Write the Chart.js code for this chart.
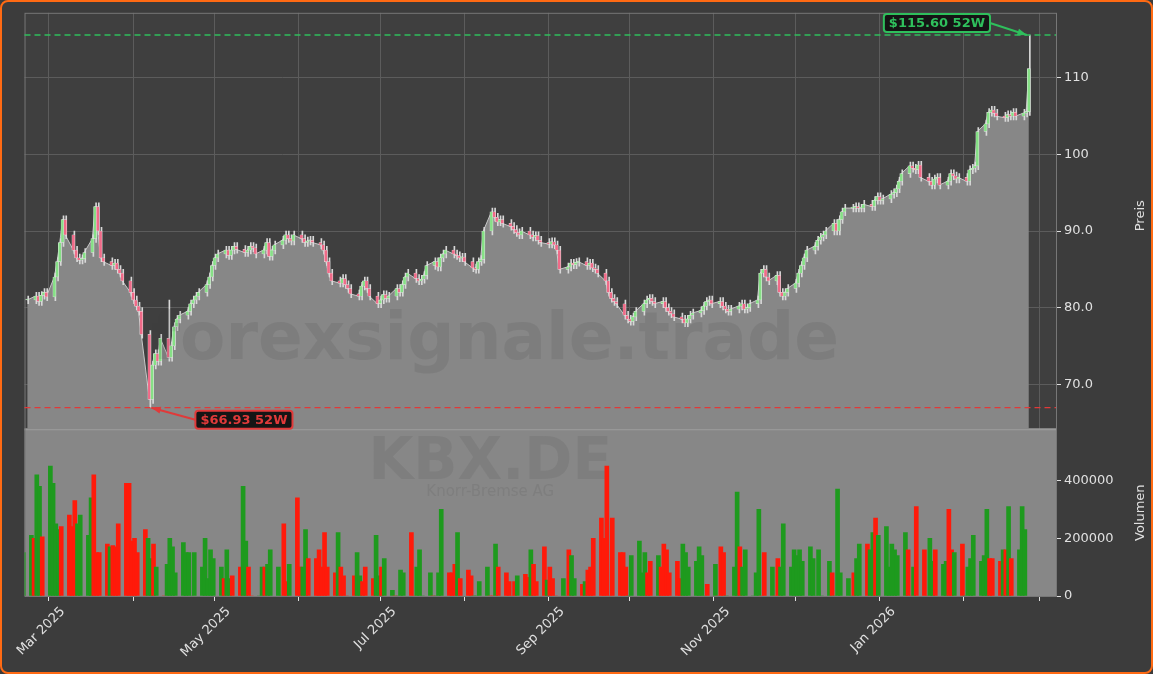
<!DOCTYPE html>
<html>
<head>
<meta charset="utf-8">
<script src="https://cdn.jsdelivr.net/npm/chart.js@4.4.1/dist/chart.umd.min.js"></script>
<style>
  html, body { margin: 0; padding: 0; background: #3c3c3c; }
  #wrap { position: relative; width: 1153px; height: 674px; box-sizing: border-box;
          border: 2px solid #ff6a13; border-radius: 8px; overflow: hidden; background: #3c3c3c; }
  canvas { display: block; }
</style>
</head>
<body>
<div id="wrap"><canvas id="chart" width="1149" height="670"></canvas></div>
<script>
// Daily closes (trading days from 21 Feb 2025)
const closes = [
  81, 81.5, 80.8, 81.6, 82, 81.4, 84, 86, 88.5, 91.5,
  89.5, 87.5, 86.5, 86.2, 86.4, 87.2, 89, 93.2, 90, 86.5,
  86, 85.5, 85.8, 85, 84.5, 83.5, 82, 81, 80.2, 79.5,
  76.5, 68, 72.5, 74, 73, 76, 73.5, 75, 77.5, 78.5,
  79, 79.5, 80.5, 81, 81.5, 82, 83, 84, 85.5, 86.5,
  87, 87.5, 86.8, 87.5, 88, 87.6, 87.2, 87.5, 88, 87.8,
  87, 87.5, 88.5, 86.7, 87.5, 88.2, 88.8, 89.5, 89, 88.7,
  89.5, 89, 88.5, 88.7, 88.8, 88.5, 88.2, 87.5, 86, 84.5,
  83.5, 83.2, 83.8, 83, 82.5, 81.8, 81.5, 82.8, 83.5, 82.5,
  81.5, 80.5, 81, 81.7, 81.2, 81.5, 82.5, 82, 83, 84,
  84.5, 83.8, 83.5, 83.7, 84.2, 85.5, 86, 85.3, 86.5, 87,
  87.5, 87, 86.8, 86.5, 86.6, 86, 85.2, 85, 86, 86.3,
  90, 92.5, 91.8, 91.2, 91.5, 91, 90.6, 90.2, 89.8, 89.5,
  90, 89.5, 89.2, 89.4, 88.8, 88.5, 88.3, 88.6, 88.2, 87.5,
  85, 85.3, 85.8, 85.6, 85.9, 86, 85.5, 85.8, 85.2, 85,
  84.5, 83.5, 82, 81.2, 80.8, 80.5, 79, 78.5, 78.2, 78.8,
  79.5, 80.5, 81, 81.2, 80.8, 80.5, 80.8, 80, 79.5, 79.2,
  78.8, 78.5, 78, 78.5, 79, 79.3, 79.6, 80.2, 80.8, 81,
  80.5, 80.8, 80.2, 79.8, 79.5, 79.8, 80.2, 80.5, 79.8, 80,
  80.5, 81, 84.5, 85, 84, 83.5, 84.2, 82, 81.5, 82,
  82.5, 83.2, 84.5, 85.5, 86.5, 87.5, 88, 88.8, 89.2, 89.5,
  90, 91, 90, 91.5, 92.5, 93, 93, 93.2, 93, 93,
  93.5, 93.2, 94, 94.5, 94, 94.2, 94.8, 95, 95.5, 96.5,
  97.5, 98.5, 98.2, 98, 98.6, 97, 96.5, 96, 96.8, 97,
  96, 96.5, 97.5, 97.2, 96.8, 97, 96.5, 98, 98.2, 98.5,
  103, 104, 105.5, 105.8, 105.4, 105, 104.8, 105.2, 105, 105.5,
  105, 105.4, 105.6, 111.2
];
// Daily volume in thousands
const volumesK = [
  150, 210, 200, 420, 380, 205, 450, 390, 250, 230,
  240, 280, 240, 330, 250, 280, 210, 340, 420, 150,
  150, 180, 170, 175, 170, 250, 390, 390, 190, 200,
  150, 230, 200, 130, 180, 100, 0, 110, 200, 170,
  80, 185, 150, 150, 0, 150, 100, 200, 60, 160,
  130, 100, 60, 160, 60, 70, 100, 380, 190, 100,
  0, 0, 100, 100, 110, 160, 100, 0, 250, 50,
  110, 340, 100, 100, 230, 130, 130, 160, 100, 220,
  100, 80, 220, 100, 70, 0, 70, 150, 70, 50,
  100, 60, 210, 70, 100, 130, 20, 0, 0, 90,
  80, 220, 0, 100, 160, 0, 80, 0, 0, 80,
  300, 80, 80, 110, 220, 60, 90, 70, 0, 0,
  50, 100, 0, 0, 180, 100, 80, 50, 0, 50,
  70, 75, 65, 160, 110, 50, 170, 55, 100, 60,
  0, 60, 0, 160, 140, 60, 40, 50, 90, 100,
  200, 270, 200, 450, 0, 270, 150, 150, 100, 0,
  140, 190, 80, 150, 80, 120, 140, 100, 180, 160,
  80, 120, 60, 180, 150, 100, 120, 170, 140, 0,
  40, 110, 0, 170, 150, 0, 100, 360, 170, 100,
  160, 0, 80, 300, 0, 150, 100, 0, 130, 100,
  250, 100, 160, 140, 160, 120, 170, 130, 0, 160,
  0, 120, 80, 0, 370, 80, 60, 0, 80, 130,
  180, 180, 160, 220, 270, 210, 240, 100, 180, 160,
  140, 220, 160, 0, 100, 310, 160, 0, 200, 120,
  160, 110, 120, 300, 160, 150, 180, 0, 100, 130,
  210, 120, 140, 300, 130, 130, 120, 160, 160, 310,
  130, 160, 310, 230
];
const low52 = 66.93, low52Index = 31;
const high52 = 115.6, high52Index = 263;
const priceTicks = [70, 80, 90, 100, 110];
const volumeTicks = [0, 200000, 400000];

const DAY = 86400000;
// trading days (weekdays) starting 21 Feb 2025
const days = [];
let d = Date.UTC(2025, 1, 21);
while (days.length < closes.length) {
  const wd = new Date(d).getUTCDay();
  if (wd !== 0 && wd !== 6) days.push(d / DAY);
  d += DAY;
}
const opens = closes.map((c, i) => i === 0 ? c : closes[i - 1]);
const highs = closes.map((c, i) => Math.max(c, opens[i]) + 0.5);
const lows = closes.map((c, i) => Math.min(c, opens[i]) - 0.5);
highs[high52Index] = high52; lows[low52Index] = low52; highs[36] = 81;

const upBody = '#86e086', downBody = '#f06a88';
const bodies = days.map((x, i) => ({ x, y: [opens[i], closes[i]] }));
const wicks = days.map((x, i) => ({ x, y: [lows[i], highs[i]] }));
const bodyColors = closes.map((c, i) => c >= opens[i] ? upBody : downBody);
const volColors = closes.map((c, i) => c >= opens[i] ? '#1e9a1e' : '#ff1a0a');

const monthTicks = [];
for (let m = 2; m <= 14; m++) monthTicks.push({ value: Date.UTC(2025, m, 1) / DAY });
const monthNames = ['Jan','Feb','Mar','Apr','May','Jun','Jul','Aug','Sep','Oct','Nov','Dec'];

const panels = {
  id: 'panels',
  beforeDraw(chart) {
    const { ctx, chartArea: a, scales } = chart;
    ctx.save();
    ctx.fillStyle = '#3f3f3f';
    ctx.fillRect(a.left, scales.y.top, a.right - a.left, scales.y.bottom - scales.y.top);
    ctx.restore();
  },
  beforeDatasetsDraw(chart) {
    const { ctx, chartArea: a, scales } = chart;
    const v = scales.v;
    ctx.save();
    ctx.fillStyle = '#878787';
    ctx.fillRect(a.left, v.top, a.right - a.left, v.bottom - v.top);
    ctx.strokeStyle = '#9a9a9a'; ctx.lineWidth = 2;
    ctx.beginPath(); ctx.moveTo(a.left, v.top); ctx.lineTo(a.right, v.top); ctx.stroke();
    ctx.fillStyle = 'rgba(70,70,70,0.13)';
    ctx.textAlign = 'center'; ctx.textBaseline = 'middle';
    ctx.font = 'bold 58px "DejaVu Sans"';
    ctx.fillText('KBX.DE', (a.left + a.right) / 2 - 50, v.top + 35);
    ctx.font = '15px "DejaVu Sans"';
    ctx.fillText('Knorr-Bremse AG', (a.left + a.right) / 2 - 50, v.top + 63);
    ctx.strokeStyle = '#777'; ctx.lineWidth = 1;
    ctx.strokeRect(a.left + 0.5, a.top + 0.5, a.right - a.left, a.bottom - a.top);
    ctx.restore();
  },
  afterDatasetsDraw(chart) {
    const { ctx, chartArea: a, scales } = chart;
    const y = scales.y;
    ctx.save();
    ctx.fillStyle = 'rgba(60,60,60,0.12)';
    ctx.textAlign = 'center'; ctx.textBaseline = 'middle';
    ctx.font = 'bold 66px "DejaVu Sans"';
    ctx.fillText('forexsignale.trade', (a.left + a.right) / 2 - 45, y.getPixelForValue(75.5));
    // 52W lines
    ctx.setLineDash([6, 4]); ctx.lineWidth = 1.3;
    ctx.strokeStyle = '#2fbf5c';
    let py = y.getPixelForValue(high52);
    ctx.beginPath(); ctx.moveTo(a.left, py); ctx.lineTo(a.right, py); ctx.stroke();
    ctx.strokeStyle = '#e03a3a';
    py = y.getPixelForValue(low52);
    ctx.beginPath(); ctx.moveTo(a.left, py); ctx.lineTo(a.right, py); ctx.stroke();
    ctx.restore();
  },
  afterDraw(chart) {
    const { ctx, scales } = chart;
    const x = scales.x, y = scales.y, v = scales.v;
    ctx.save();
    const label = (text, bx, by, color, tx, ty, fromRight) => {
      ctx.font = 'bold 13px "DejaVu Sans"';
      const w = ctx.measureText(text).width + 10, h = 18;
      ctx.strokeStyle = color; ctx.fillStyle = color; ctx.lineWidth = 2;
      const sx = fromRight ? bx + w : bx, sy = by;
      ctx.beginPath(); ctx.moveTo(sx, sy); ctx.lineTo(tx, ty); ctx.stroke();
      const ang = Math.atan2(ty - sy, tx - sx);
      ctx.beginPath(); ctx.moveTo(tx, ty);
      ctx.lineTo(tx - 10 * Math.cos(ang - 0.35), ty - 10 * Math.sin(ang - 0.35));
      ctx.lineTo(tx - 10 * Math.cos(ang + 0.35), ty - 10 * Math.sin(ang + 0.35));
      ctx.closePath(); ctx.fill();
      ctx.fillStyle = '#151515';
      ctx.beginPath(); ctx.roundRect(bx, by - h / 2, w, h, 3); ctx.fill(); ctx.stroke();
      ctx.fillStyle = color; ctx.textAlign = 'left'; ctx.textBaseline = 'middle';
      ctx.fillText(text, bx + 5, by + 1);
    };
    const hx = x.getPixelForValue(days[high52Index]), hy = y.getPixelForValue(high52);
    label('$115.60 52W', hx - 145, hy - 12, '#2fbf5c', hx - 2, hy, true);
    const lx = x.getPixelForValue(days[low52Index]), ly = y.getPixelForValue(low52);
    label('$66.93 52W', lx + 46, ly + 12, '#e03a3a', lx + 2, ly, false);
    ctx.fillStyle = '#e0e0e0'; ctx.font = '13px "DejaVu Sans"';
    ctx.textAlign = 'center'; ctx.textBaseline = 'middle';
    [[y, 'Preis', y.getPixelForValue(92)], [v, 'Volumen', (v.top + v.bottom) / 2]].forEach(([s, t, cy]) => {
      ctx.save(); ctx.translate(s.right - 10, cy); ctx.rotate(-Math.PI / 2);
      ctx.fillText(t, 0, 0); ctx.restore();
    });
    ctx.restore();
  }
};

new Chart(document.getElementById('chart'), {
  data: {
    datasets: [
      {
        type: 'line', data: days.map((x, i) => ({ x, y: closes[i] })), yAxisID: 'y',
        borderColor: '#c8c8c8', borderWidth: 1, backgroundColor: '#878787',
        fill: 'start', pointRadius: 0, tension: 0, order: 3
      },
      {
        type: 'bar', data: wicks, yAxisID: 'y', barThickness: 1,
        backgroundColor: '#d8d8d8', order: 2
      },
      {
        type: 'bar', data: bodies, yAxisID: 'y', barThickness: 3, minBarLength: 1,
        backgroundColor: bodyColors, borderColor: '#e8e8e8', borderWidth: 0.5, borderSkipped: false, order: 1
      },
      {
        type: 'bar', data: days.map((x, i) => ({ x, y: volumesK[i] * 1000 })), yAxisID: 'v',
        barThickness: 4, backgroundColor: volColors, order: 0
      }
    ]
  },
  options: {
    responsive: false, animation: false,
    layout: { padding: { left: 12, top: 10, right: 0, bottom: 0 } },
    plugins: { legend: { display: false }, tooltip: { enabled: false } },
    scales: {
      x: {
        type: 'linear', offset: false, min: Date.UTC(2025, 1, 20) / DAY, max: Date.UTC(2026, 2, 7) / DAY,
        afterBuildTicks: s => { s.ticks = monthTicks.map(t => ({ value: t.value })); },
        afterFit: s => { s.height = 76; },
        ticks: {
          color: '#e0e0e0', font: { family: 'DejaVu Sans', size: 13 },
          minRotation: 45, maxRotation: 45, autoSkip: false, labelOffset: 14,
          callback: val => {
            const dt = new Date(val * DAY);
            if (dt.getUTCFullYear() === 2026 && dt.getUTCMonth() === 2) return '';
            return dt.getUTCMonth() % 2 === 0 ? monthNames[dt.getUTCMonth()] + ' ' + dt.getUTCFullYear() : '';
          }
        },
        grid: { offset: false, color: '#5c5c5c', tickColor: '#e0e0e0', tickLength: 5 },
        border: { display: false }
      },
      y: {
        position: 'right', stack: 'main', stackWeight: 2.5, min: 64.1, max: 118.5,
        afterBuildTicks: s => { s.ticks = priceTicks.map(value => ({ value })); },
        afterFit: s => { s.width = 95; },
        ticks: { color: '#e0e0e0', font: { family: 'DejaVu Sans', size: 13 },
                 callback: val => val < 100 ? val.toFixed(1) : String(val) },
        grid: { color: '#5c5c5c', tickColor: '#e0e0e0', tickLength: 5 },
        border: { display: false }
      },
      v: {
        position: 'right', stack: 'main', stackWeight: 1, min: 0, max: 577000,
        afterBuildTicks: s => { s.ticks = volumeTicks.map(value => ({ value })); },
        afterFit: s => { s.width = 95; },
        ticks: { color: '#e0e0e0', font: { family: 'DejaVu Sans', size: 13 }, callback: val => String(val) },
        grid: { display: true, drawOnChartArea: false, tickColor: '#e0e0e0', tickLength: 5 },
        border: { display: false }
      }
    }
  },
  plugins: [panels]
});
</script>
</body>
</html>
